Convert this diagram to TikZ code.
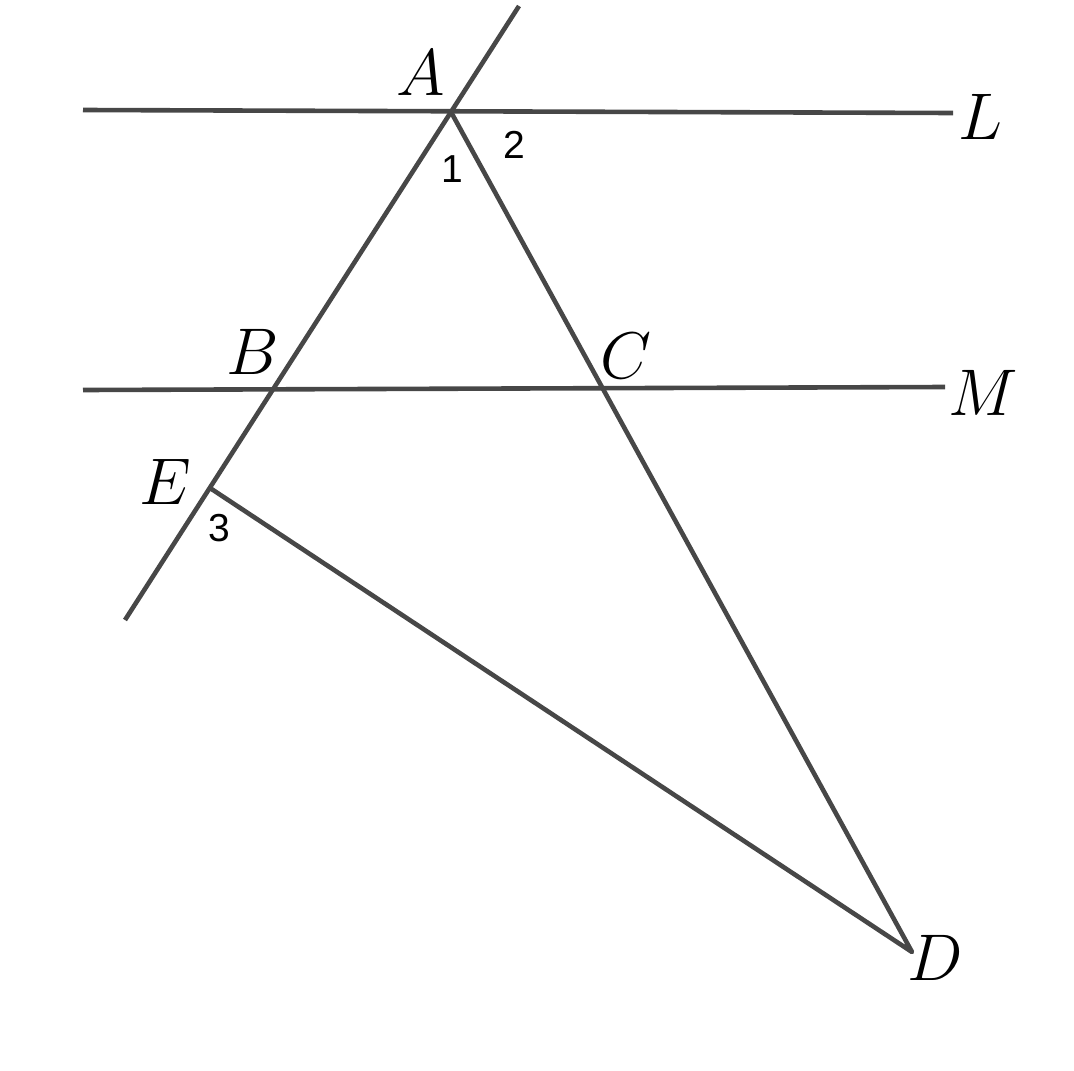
\RequirePackage{fix-cm}
\documentclass[tikz,border=0pt]{standalone}
\usepackage{fontspec}
\newfontfamily\digitfont{Liberation Sans}
\begin{document}
\begin{tikzpicture}[x=0.5pt,y=-0.5pt,
  geoline/.style={draw=black!72,line width=2.3pt,line join=round},
  ptlabel/.style={inner sep=0pt,anchor=center,font=\fontsize{33}{40}\selectfont},
  anglabel/.style={inner sep=0pt,anchor=center,font=\digitfont\fontsize{19.5}{23}\selectfont}]
\useasboundingbox (0,0) rectangle (1074,1070);
% points
\coordinate (A) at (451,112);
\coordinate (T) at (519,6);
\coordinate (Bot) at (125,620);
\coordinate (E) at (210,488);
\coordinate (B) at (273.4,389.1);
\coordinate (C) at (602.3,387.6);
\coordinate (D) at (912,952);
\coordinate (L1) at (83,110);
\coordinate (L2) at (953,113);
\coordinate (M1) at (83,390);
\coordinate (M2) at (945,387);
% lines
\draw[geoline] (L1) -- (L2);
\draw[geoline] (M1) -- (M2);
\draw[geoline] (T) -- (Bot);
\draw[geoline] (A) -- (D) -- (E);
% labels
\node[ptlabel] (lA) at (421,73) {$A$};
\node[ptlabel] (lB) at (253,352) {$B$};
\node[ptlabel] (lC) at (626,356) {$C$};
\node[ptlabel] (lE) at (165,482) {$E$};
\node[ptlabel] (lD) at (935,958) {$D$};
\node[ptlabel] (lL) at (980,117) {$L$};
\node[ptlabel] (lM) at (983,393) {$M$};
\node[anglabel] (n1) at (452,169) {1};
\node[anglabel] (n2) at (514,145) {2};
\node[anglabel] (n3) at (219,528) {3};
\end{tikzpicture}
\end{document}
